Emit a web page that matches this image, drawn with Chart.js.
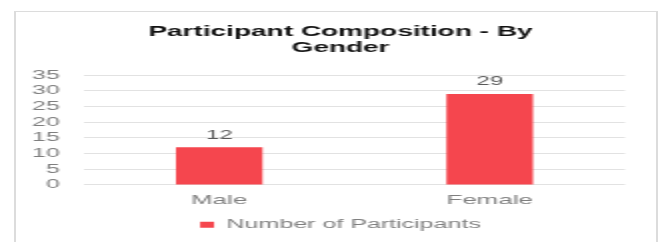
<!DOCTYPE html>
<html>
<head>
<meta charset="utf-8">
<script src="https://cdn.jsdelivr.net/npm/chart.js@4/dist/chart.umd.min.js"></script>
<style>
  html, body { margin: 0; padding: 0; background: #fff; overflow: hidden; }
  /* the reference picture is stretched sideways, so the chart is drawn at half width and widened */
  #wrap { position: absolute; left: 0; top: 0; width: 335px; height: 242px; transform: scaleX(2); transform-origin: 0 0; }
  #card { position: absolute; left: 7px; top: 11px; width: 322px; height: 240px; border: 1px solid #dcdcdc; box-sizing: border-box; }
  #chart { position: absolute; left: 0; top: 0; }
</style>
</head>
<body>
<div id="wrap">
  <div id="card"></div>
  <canvas id="chart" width="335" height="242"></canvas>
</div>
<script>
const categories = ['Male', 'Female'];
const participants = [12, 29];
const seriesName = 'Number of Participants';
const titleLines = ['Participant Composition - By', 'Gender'];

const FONT = '"Liberation Sans", Arial, sans-serif';

// draws the value above each bar
const barValues = {
  id: 'barValues',
  afterDatasetsDraw(chart) {
    const ctx = chart.ctx;
    ctx.save();
    ctx.font = '12px ' + FONT;
    ctx.fillStyle = '#595959';
    ctx.textAlign = 'center';
    ctx.textBaseline = 'middle';
    chart.getDatasetMeta(0).data.forEach((bar, i) => {
      ctx.fillText(String(chart.data.datasets[0].data[i]), bar.x, bar.y - 12);
    });
    ctx.restore();
  }
};

// title and legend sit a little right of the canvas centre in the original
const nudgeBoxes = {
  id: 'nudgeBoxes',
  afterInit(chart) {
    [chart.titleBlock, chart.legend].forEach(box => {
      if (!box) return;
      const draw = box.draw.bind(box);
      box.draw = (...args) => {
        chart.ctx.save();
        chart.ctx.translate(6, 0);
        draw(...args);
        chart.ctx.restore();
      };
    });
  }
};

new Chart(document.getElementById('chart'), {
  type: 'bar',
  data: {
    labels: categories,
    datasets: [{
      label: seriesName,
      data: participants,
      backgroundColor: '#f5464e',
      categoryPercentage: 0.32,
      barPercentage: 1
    }]
  },
  options: {
    responsive: false,
    animation: false,
    layout: { padding: { left: 16, right: 22.5, top: 0, bottom: 1 } },
    plugins: {
      title: {
        display: true,
        text: titleLines,
        color: '#111',
        font: { family: FONT, size: 14, weight: 'bold', lineHeight: 1.08 },
        padding: { top: 25, bottom: 20 }
      },
      legend: {
        position: 'bottom',
        labels: {
          color: '#7f7f7f',
          font: { family: FONT, size: 12.5 },
          boxWidth: 7,
          boxHeight: 6,
          padding: 6
        }
      },
      tooltip: { enabled: false }
    },
    scales: {
      x: {
        afterFit: (scale) => { scale.height += 4; },
        grid: { display: false },
        border: { display: false },
        ticks: { color: '#7f7f7f', font: { family: FONT, size: 13 }, padding: 0 }
      },
      y: {
        min: 0,
        max: 35,
        afterFit: (scale) => { scale.width = 26; },
        ticks: { stepSize: 5, autoSkip: false, color: '#7f7f7f', font: { family: FONT, size: 12.5 }, padding: 12 },
        grid: { color: '#e2e2e2', drawTicks: false },
        border: { display: false }
      }
    }
  },
  plugins: [barValues, nudgeBoxes]
});
</script>
</body>
</html>
